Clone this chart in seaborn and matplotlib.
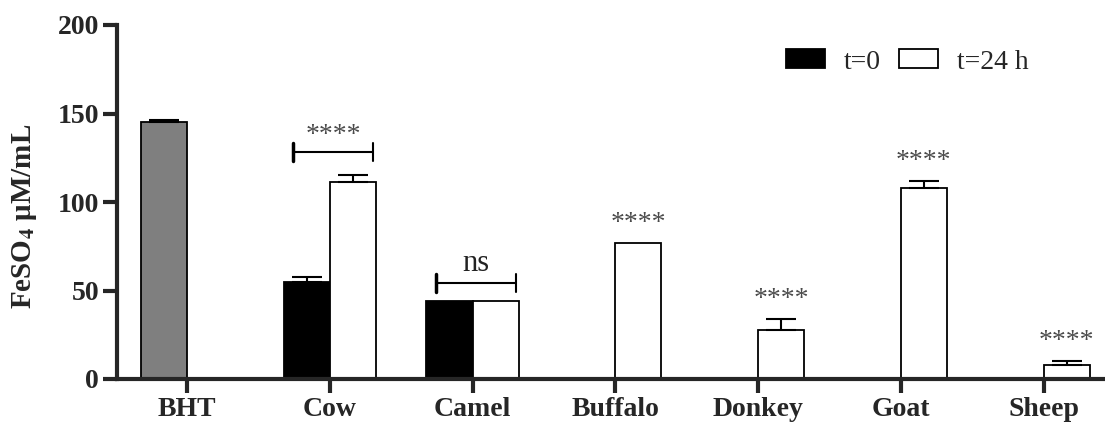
import numpy as np
import pandas as pd
import matplotlib.pyplot as plt
import seaborn as sns

# values (FeSO4 uM/mL)
samples = ['BHT', 'Cow', 'Camel', 'Buffalo', 'Donkey', 'Goat', 'Sheep']
t0_samples = ['BHT', 'Cow', 'Camel']
t0_values = [145.0, 54.8, 44.2]
t0_errors = [1.2, 2.8, 0.0]
t24_samples = ['Cow', 'Camel', 'Buffalo', 'Donkey', 'Goat', 'Sheep']
t24_values = [111.5, 44.2, 76.8, 27.8, 108.0, 7.9]
t24_errors = [3.8, 0.0, 0.0, 6.0, 3.9, 2.3]
time_levels = ['t=0', 't=24 h']

# significance labels
single_marks = {'Buffalo': '****', 'Donkey': '****', 'Goat': '****', 'Sheep': '****'}
pair_marks = {'Cow': '****', 'Camel': 'ns'}

df = pd.DataFrame({
    'sample': t0_samples + t24_samples,
    'value': t0_values + t24_values,
    'err': t0_errors + t24_errors,
    'time': ['t=0'] * len(t0_samples) + ['t=24 h'] * len(t24_samples),
})

sns.set_style('ticks')
plt.rcParams['font.family'] = ['Liberation Serif', 'DejaVu Serif']
plt.rcParams['mathtext.fontset'] = 'stix'

fig = plt.figure(figsize=(11.05, 4.26), dpi=100)
ax = fig.add_axes([117 / 1105, 47 / 426, 1 - 117 / 1105, 354 / 426])

sns.barplot(data=df, x='sample', y='value', hue='time', order=samples,
            hue_order=time_levels, palette={'t=0': 'black', 't=24 h': 'white'},
            width=0.645, edgecolor='black', linewidth=1.3, errorbar=None,
            saturation=1, ax=ax)

# find bars by category index, recolour BHT, add upward error bars
bars = {}
for cont, lvl in zip(ax.containers, time_levels):
    for p in cont.patches:
        idx = int(round(p.get_x() + p.get_width() / 2))
        bars[(samples[idx], lvl)] = p
bars[('BHT', 't=0')].set_facecolor('#7f7f7f')

tops = {}
for _, r in df.iterrows():
    p = bars[(r['sample'], r['time'])]
    xc = p.get_x() + p.get_width() / 2
    if r['err'] > 0:
        ax.errorbar(xc, r['value'], yerr=[[0], [r['err']]], fmt='none',
                    ecolor='black', elinewidth=1.5, capsize=11, capthick=1.5)
    tops[(r['sample'], r['time'])] = (p, r['value'] + r['err'])

# single bar stars
for s, txt in single_marks.items():
    p, top = tops[(s, 't=24 h')]
    ax.text(p.get_x() + p.get_width() / 2, top + 11, txt, ha='center',
            va='center', fontsize=20, color='#4a4a4a')

# paired brackets
for s, txt in pair_marks.items():
    pl, tl = tops[(s, 't=0')]
    pr, tr = tops[(s, 't=24 h')]
    x1 = pl.get_x() + 0.2 * pl.get_width()
    x2 = pr.get_x() + 0.95 * pr.get_width()
    yb = max(tl, tr) + (13 if txt != 'ns' else 10)
    ax.plot([x1, x2], [yb, yb], color='black', lw=1.5)
    ax.plot([x1, x1], [yb - 5, yb + 5], color='black', lw=2.5)
    ax.plot([x2, x2], [yb - 5, yb + 5], color='black', lw=1.5)
    if txt == 'ns':
        ax.text((x1 + x2) / 2, yb + 3, txt, ha='center', va='bottom',
                fontsize=22, color='#222222')
    else:
        ax.text((x1 + x2) / 2, yb + 9, txt, ha='center', va='center',
                fontsize=20, color='#4a4a4a')

ax.set_xlim(-0.49, 6.43)
ax.set_ylim(0, 200)
ax.set_yticks([0, 50, 100, 150, 200])
sns.despine(ax=ax)
for sp in ['left', 'bottom']:
    ax.spines[sp].set_linewidth(3)
ax.tick_params(axis='both', length=10, width=3, pad=3)
ax.tick_params(axis='x', labelsize=20, pad=3)
ax.tick_params(axis='y', labelsize=20)
for lab in ax.get_xticklabels() + ax.get_yticklabels():
    lab.set_fontweight('bold')

ax.set_xlabel('')
ax.set_ylabel(r'FeSO$_\mathbf{4}$ μM/mL', fontsize=21, fontweight='bold')
ax.yaxis.set_label_coords(-78 / 988, 0.46)

handles, labels = ax.get_legend_handles_labels()
ax.legend(handles, labels, loc='center right', bbox_to_anchor=(1054 / 1105, 1 - 62 / 426),
          bbox_transform=fig.transFigure, ncol=2, frameon=False, fontsize=20,
          handlelength=1.4, handleheight=0.65, handletextpad=0.7, columnspacing=0.65)

fig.savefig('out.png', dpi=100)
